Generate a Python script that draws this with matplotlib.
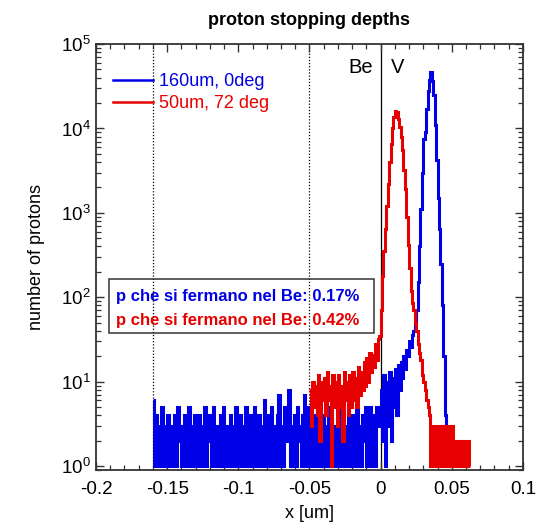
import numpy as np
import matplotlib.pyplot as plt
from matplotlib.lines import Line2D
from matplotlib.patches import Rectangle

plt.rcParams['font.family'] = ['Liberation Sans', 'DejaVu Sans']
plt.rcParams['mathtext.fontset'] = 'custom'
plt.rcParams['mathtext.rm'] = 'Liberation Sans'

bin_width = 0.001

# 160um, 0deg  (bins start at -0.160)
blue_x0 = -0.160
blue_counts = [
    6, 1, 4, 2, 1, 3, 5, 1, 3, 1,
    4, 2, 1, 3, 1, 4, 1, 5, 2, 3,
    1, 3, 4, 1, 2, 5, 1, 3, 1, 4,
    1, 2, 4, 1, 3, 1, 5, 1, 2, 4,
    3, 1, 5, 2, 1, 3, 1, 4, 1, 5,
    1, 3, 2, 1, 4, 1, 3, 1, 5, 2,
    1, 4, 2, 1, 3, 5, 1, 2, 4, 1,
    3, 5, 1, 2, 4, 1, 3, 1, 6, 1,
    4, 2, 1, 5, 1, 3, 1, 4, 7, 1,
    3, 1, 5, 2, 4, 8, 1, 3, 1, 4,
    1, 5, 2, 3, 1, 4, 7, 1, 3, 5,
    1, 2, 4, 1, 3, 5, 1, 3, 1, 4,
    2, 1, 3, 5, 1, 4, 1, 2, 3, 1,
    4, 1, 5, 1, 3, 1, 2, 5, 1, 3,
    4, 1, 2, 5, 1, 3, 1, 4, 2, 5,
    1, 3, 5, 1, 4, 2, 1, 5, 3, 5,
    8, 2, 12, 1, 10, 3, 13, 2, 11, 5,
    14, 4, 16, 8, 17, 11, 20, 14, 24, 20,
    30, 26, 36, 40, 50, 70, 150, 400, 1100, 3000,
    7500, 9000, 17000, 28000, 38000, 47000, 36000, 25000, 11000, 4200,
    1500, 650, 250, 80, 20, 4, 1,
]

# 50um, 72 deg  (bins start at -0.050)
red_x0 = -0.050
red_counts = [
    8, 3, 10, 5, 9, 4, 12, 2, 10, 6,
    11, 4, 13, 6, 9, 1, 12, 5, 10, 3,
    12, 5, 9, 2, 13, 6, 10, 4, 12, 5,
    13, 6, 11, 5, 15, 7, 13, 8, 17, 9,
    19, 10, 22, 13, 21, 15, 28, 18, 32, 35,
    70, 180, 350, 650, 1200, 2200, 4000, 6500, 10000, 13500,
    16000, 15500, 13000, 10500, 8000, 5500, 3200, 1900, 900, 420,
    220, 120, 85, 70, 50, 40, 28, 22, 18, 12,
    10, 8, 6, 5, 4, 1, 3, 1, 2, 3,
    1, 2, 3, 1, 3, 2, 1, 3, 1, 2,
    3, 1, 2, 1, 2, 1, 2, 1, 2, 1,
    1, 2, 1,
]

labels = ["160um, 0deg", "50um, 72 deg"]
colors = ["#0000e6", "#e60000"]
fractions = ["0.17%", "0.42%"]
boundaries = [-0.16, -0.05]

blue_edges = blue_x0 + bin_width * np.arange(len(blue_counts) + 1)
red_edges = red_x0 + bin_width * np.arange(len(red_counts) + 1)

fig = plt.figure(figsize=(5.46, 5.28), dpi=100)
ax = fig.add_axes([0.1758, 0.1098, 0.782, 0.8068])

for b in boundaries:
    ax.axvline(b, color="black", ls=(0, (1, 1.5)), lw=0.9, zorder=1)
ax.axvline(0, color="black", lw=0.9, zorder=1)

ax.stairs(blue_counts, blue_edges, baseline=None, color=colors[0], lw=2.2, zorder=2)
ax.stairs(red_counts, red_edges, baseline=None, color=colors[1], lw=2.2, zorder=3)

ax.set_yscale("log")
ax.set_xlim(-0.2, 0.1)
ax.set_ylim(0.9, 1e5)
ax.set_xticks([-0.2, -0.15, -0.1, -0.05, 0, 0.05, 0.1])
ax.set_xticklabels(["-0.2", "-0.15", "-0.1", "-0.05", "0", "0.05", "0.1"])
ax.set_xticks(np.arange(-0.19, 0.1, 0.01), minor=True)
ax.tick_params(which="both", direction="in", top=True, right=True, labelsize=13.5, color="#333333")
ax.tick_params(which="major", length=6, width=1)
ax.tick_params(which="minor", length=3.5, width=0.9)
ax.tick_params(axis="x", pad=8)
for s in ax.spines.values():
    s.set_linewidth(1.3)
    s.set_color("#333333")

ax.set_xlabel("x [um]", fontsize=13, labelpad=5)
ax.set_ylabel("number of protons", fontsize=13, labelpad=12)
ax.set_title("proton stopping depths", fontsize=13, fontweight="bold", pad=14)

ax.text(0.649, 0.944, "Be", transform=ax.transAxes, fontsize=14.5, ha="right", va="center")
ax.text(0.69, 0.944, "V", transform=ax.transAxes, fontsize=14.5, ha="left", va="center")

handles = [Line2D([], [], color=c, lw=1.8) for c in colors]
ax.legend(handles, labels, loc="upper left", bbox_to_anchor=(0.04, 0.932), frameon=False,
          fontsize=13, handlelength=2.2, handletextpad=0.35, labelspacing=0.3,
          borderpad=0, borderaxespad=0, labelcolor="linecolor")

ax.add_patch(Rectangle((0.03, 0.322), 0.62, 0.126, transform=ax.transAxes, fill=False,
                       edgecolor="#333333", lw=1.1, zorder=4))
for i, (c, f) in enumerate(zip(colors, fractions)):
    ax.text(0.047, 0.408 - i * 0.058, "p che si fermano nel Be: " + f, transform=ax.transAxes,
            color=c, fontsize=12, fontweight="bold", va="center", zorder=5)

fig.savefig("out.png", dpi=100)
